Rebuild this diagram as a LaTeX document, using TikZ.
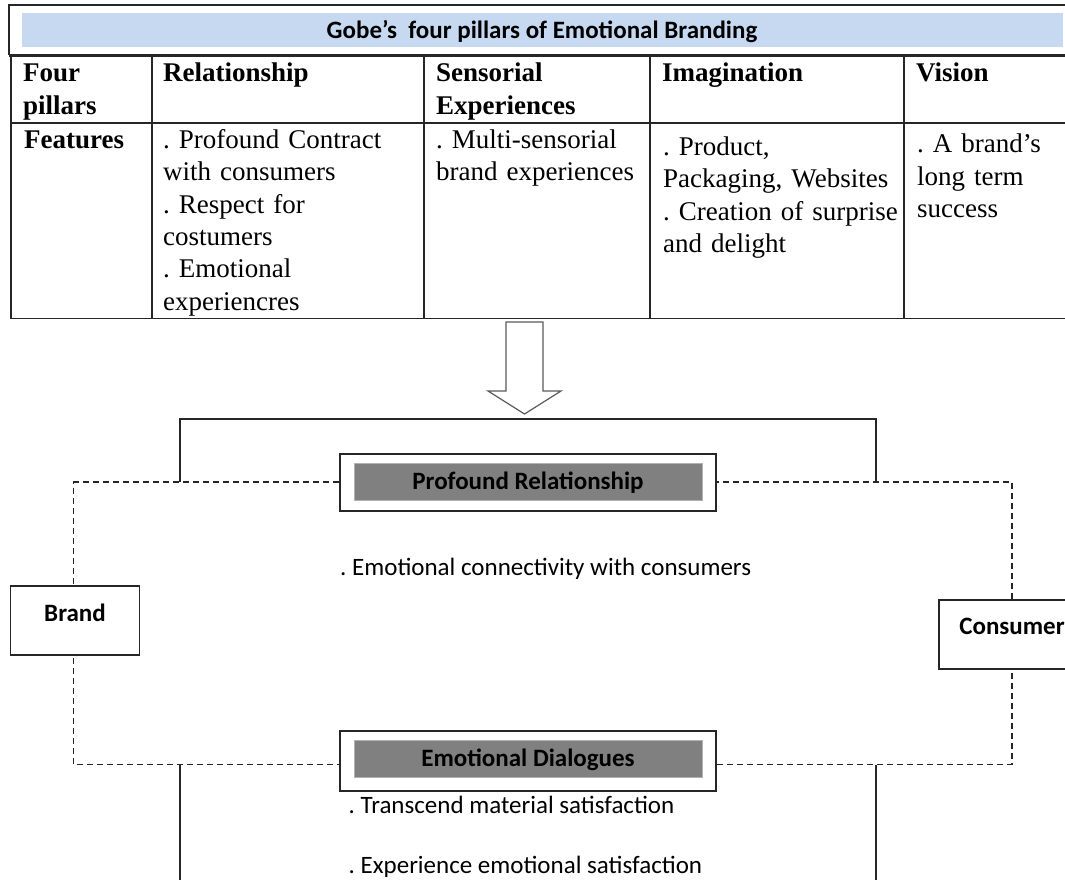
\documentclass[tikz,border=0pt]{standalone}
\usepackage{fontspec}
\setmainfont{Liberation Serif}
\newfontfamily\calibrif{Carlito}
\definecolor{band}{HTML}{C6D9F1}
\definecolor{boxgray}{HTML}{808080}
\definecolor{arrowgray}{HTML}{5A5A5A}
\begin{document}
\frenchspacing
\begin{tikzpicture}[x=1pt,y=-1pt,
  tline/.style={line width=1.3pt,draw=black!85},
  cell/.style={anchor=base west,inner sep=0pt,text width=262pt,align=left,
    font=\frenchspacing\fontsize{27}{32.5}\selectfont},
  hcell/.style={cell,font=\fontsize{27}{32.5}\selectfont\bfseries},
  ctext/.style={inner sep=0pt,font=\frenchspacing\calibrif\fontsize{25}{29}\selectfont},
  btext/.style={inner sep=0pt,font=\frenchspacing\calibrif\fontsize{25}{29}\selectfont\bfseries},
  framebox/.style={draw=black!85,line width=1.3pt,fill=white,inner sep=0pt},
  graybox/.style={fill=boxgray,draw=black!30,line width=0.6pt,inner sep=0pt},
  dsh/.style={draw=black!85,line width=1.2pt,dash pattern=on 6pt off 4pt},
  bracket/.style={draw=black!85,line width=1.1pt},
  arrowshape/.style={draw=arrowgray,line width=1.2pt,fill=white,line join=miter}
]
\useasboundingbox (0,0) rectangle (1065,880);

% ---------- title ----------
\fill[band] (22,13) rectangle (1063,47);
\draw[line width=1.6pt,draw=black!85] (1075,5) -- (9,5) -- (9,55);
\draw[line width=3pt,draw=black!85] (9,55.5) -- (1075,55.5);
\node[btext,anchor=base] (title) at (542,39) {Gobe’s\ \ four pillars of Emotional Branding};

% ---------- table grid ----------
\draw[tline] (11,57) -- (11,318.5);
\draw[tline] (152,57) -- (152,318.5);
\draw[tline] (424,57) -- (424,318.5);
\draw[tline] (650,57) -- (650,318.5);
\draw[tline] (904,57) -- (904,318.5);
\draw[tline] (11,123) -- (1075,123);
\draw[tline] (10,318.5) -- (1075,318.5);

% ---------- table text ----------
\node[hcell,text width=120pt] (h0) at (23,82) {Four\\pillars};
\node[hcell] (h1) at (163,82) {Relationship};
\node[hcell,text width=200pt] (h2) at (436,82) {Sensorial\\Experiences};
\node[hcell,text width=230pt] (h3) at (662,82) {Imagination};
\node[hcell,text width=150pt] (h4) at (916,82) {Vision};

\node[hcell,text width=120pt] (f0) at (24,148) {Features};
\node[cell] (f1) at (163,148) {. Profound Contract\\with consumers\\. Respect for\\costumers\\. Emotional\\experiencres};
\node[cell,text width=220pt] (f2) at (436,148) {. Multi-sensorial\\brand experiences};
\node[cell,text width=240pt] (f3) at (663,155) {. Product,\\Packaging, Websites\\. Creation of surprise\\and delight};
\node[cell,text width=150pt] (f4) at (917,153) {. A brand’s\\long term\\success};

% ---------- big arrow ----------
\draw[arrowshape] (506,322) -- (543,322) -- (543,391) -- (561,391) -- (524.5,414)
  -- (488,391) -- (506,391) -- cycle;

% ---------- frame coordinates ----------
\coordinate (tl) at (73.4,482);
\coordinate (tr) at (1012,482);
\coordinate (bl) at (73.4,764.5);
\coordinate (br) at (1012,764.5);

\coordinate (ubl) at (180,482);
\coordinate (ubr) at (876,482);
\coordinate (ltl) at (180,764.5);
\coordinate (ltr) at (876,764.5);
\coordinate (lbl) at (180,890);
\coordinate (lbr) at (876,890);

% dashed frame
\draw[dsh] (tl) -- (tr) -- (br) -- (bl) -- cycle;

% solid brackets
\draw[bracket] (ubl) -- (180,419) -- (876,419) -- (ubr);
\draw[bracket] (ltl) -- (lbl);
\draw[bracket] (ltr) -- (lbr);

% Profound Relationship
\node[framebox,minimum width=376pt,minimum height=57pt] (pr) at (528,482.5) {};
\node[graybox,minimum width=348pt,minimum height=37pt] (prin) at (528,481.5) {};
\node[btext,anchor=base] (prt) at (528,489) {Profound Relationship};

% Emotional Dialogues
\node[framebox,minimum width=376pt,minimum height=60pt] (ed) at (528,761) {};
\node[graybox,minimum width=348pt,minimum height=37pt] (edin) at (528,758.5) {};
\node[btext,anchor=base] (edt) at (528,766) {Emotional Dialogues};

% Brand and Consumer
\node[framebox,minimum width=129pt,minimum height=69pt] (brand) at (75.3,620.5) {};
\node[btext,anchor=base] (brandt) at (75,621) {Brand};
\node[framebox,minimum width=146pt,minimum height=69pt] (cons) at (1012,634.5) {};
\node[btext,anchor=base] (const) at (1012,634) {Consumer};

% free texts
\node[ctext,anchor=base west] (t1) at (340,575) {. Emotional connectivity with consumers};
\node[ctext,anchor=base west] (t2) at (348.5,813) {. Transcend material satisfaction};
\node[ctext,anchor=base west] (t3) at (348.5,873) {. Experience emotional satisfaction};
\end{tikzpicture}
\end{document}
